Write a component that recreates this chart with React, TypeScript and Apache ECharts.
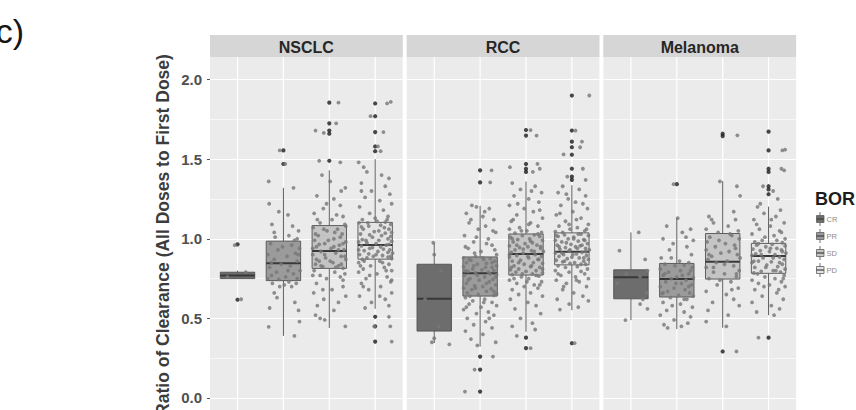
import React, { useEffect, useRef } from 'react';
import * as echarts from 'echarts';

const panelNames = ['NSCLC', 'RCC', 'Melanoma'];
const responseLevels = ['CR', 'PR', 'SD', 'PD'];
const responseFills = ['#6d6d6d', '#9b9b9b', '#c4c4c4', '#e4e4e4'];

// [lower whisker, Q1, median, Q3, upper whisker] per response level
const nsclcBoxes = [
  [0.75, 0.75, 0.77, 0.79, 0.8],
  [0.39, 0.737, 0.847, 0.985, 1.32],
  [0.44, 0.814, 0.923, 1.083, 1.43],
  [0.56, 0.872, 0.961, 1.103, 1.5],
];
const rccBoxes = [
  [0.345, 0.42, 0.623, 0.84, 0.975],
  [0.323, 0.64, 0.783, 0.886, 1.207],
  [0.416, 0.772, 0.905, 1.03, 1.36],
  [0.551, 0.836, 0.919, 1.037, 1.337],
];
const melanomaBoxes = [
  [0.489, 0.623, 0.758, 0.805, 1.04],
  [0.433, 0.634, 0.747, 0.845, 1.13],
  [0.441, 0.747, 0.855, 1.033, 1.362],
  [0.52, 0.783, 0.892, 0.971, 1.202],
];

// outlying ratios per response level
const nsclcOutliers = [
  [0.965, 0.617],
  [1.555, 1.47],
  [1.855, 1.725, 1.68, 1.66, 1.49],
  [1.85, 1.77, 1.67, 1.58, 1.55, 0.51, 0.45, 0.354],
];
const rccOutliers = [
  [],
  [1.43, 1.354, 0.26, 0.178, 0.04],
  [1.683, 1.648, 1.47, 1.44, 1.42, 0.379, 0.313],
  [1.9, 1.68, 1.61, 1.575, 1.528, 1.44, 1.39, 1.37, 0.344],
];
const melanomaOutliers = [
  [],
  [1.343],
  [1.66, 1.645, 0.292],
  [1.673, 1.555, 1.44, 1.42, 1.33, 1.31, 1.28, 0.379],
];

// individual patients: [horizontal jitter, ratio]
const nsclcCR = [[-0.06, 0.96], [0.18, 0.79], [-0.22, 0.76], [0.08, 0.62]];
const nsclcPR = [
  [-0.08, 1.555], [0.04, 1.47], [-0.32, 1.36], [0.22, 1.32], [-0.31, 1.22], [-0.1, 1.17], [-0.25, 1.09], [0.2, 1.08],
  [0.33, 1.05], [-0.2, 1.04], [0.12, 1.02], [0.3, 1.0], [-0.28, 0.97], [0.18, 0.96], [0.35, 0.94], [-0.12, 0.93],
  [0.26, 0.91], [-0.34, 0.9], [0.08, 0.89], [-0.2, 0.87], [0.3, 0.86], [-0.05, 0.84], [0.15, 0.83], [-0.3, 0.82],
  [0.36, 0.8], [-0.15, 0.79], [0.22, 0.78], [-0.26, 0.77], [0.05, 0.76], [0.3, 0.75], [-0.1, 0.745], [0.12, 0.73],
  [-0.24, 0.72], [0.28, 0.72], [0.02, 0.71], [-0.08, 0.7], [-0.14, 0.63], [0.25, 0.6], [-0.3, 0.565], [0.33, 0.55],
  [0.35, 0.48], [-0.32, 0.447], [0.24, 0.39], [0.1, 1.15], [-0.18, 1.01], [0.24, 0.99], [-0.02, 0.95], [0.32, 0.9],
  [-0.26, 0.85], [0.1, 0.8], [-0.34, 0.75], [0.18, 0.7], [-0.2, 0.66],
];
const nsclcSD = [
  [0.2, 1.855], [0.15, 1.725], [-0.3, 1.68], [-0.12, 1.665], [-0.22, 1.49], [0.24, 1.48], [-0.16, 1.4], [0.02, 1.36],
  [0.35, 1.32], [-0.27, 1.27], [0.1, 1.25], [0.24, 1.21], [-0.13, 1.19], [-0.33, 1.16], [0.3, 1.14], [0.06, 1.12],
  [-0.2, 1.1], [0.34, 1.09], [-0.35, 1.07], [0.18, 1.06], [-0.05, 1.05], [0.28, 1.03], [-0.24, 1.02], [0.1, 1.0],
  [-0.32, 0.99], [0.36, 0.98], [-0.1, 0.97], [0.22, 0.96], [-0.28, 0.95], [0.04, 0.94], [0.32, 0.93], [-0.18, 0.92],
  [0.14, 0.91], [-0.36, 0.9], [0.26, 0.89], [-0.08, 0.88], [0.36, 0.87], [-0.22, 0.86], [0.08, 0.85], [-0.3, 0.84],
  [0.2, 0.83], [-0.14, 0.825], [0.3, 0.815], [-0.33, 0.8], [0.12, 0.79], [0.34, 0.78], [-0.2, 0.77], [0.24, 0.76],
  [-0.06, 0.75], [-0.28, 0.72], [0.3, 0.7], [0.06, 0.68], [-0.34, 0.66], [0.36, 0.64], [-0.12, 0.62], [0.2, 0.6],
  [-0.26, 0.58], [0.1, 0.55], [-0.3, 0.52], [-0.2, 0.5], [0.35, 0.45], [-0.1, 0.49], [0.26, 1.3], [-0.06, 1.22],
  [0.16, 1.15], [-0.26, 1.12], [0.36, 1.08], [-0.12, 1.06], [0.12, 1.04], [-0.3, 1.03], [0.24, 1.01], [-0.02, 0.99],
  [0.3, 0.97], [-0.22, 0.965], [0.1, 0.95], [-0.36, 0.94], [0.2, 0.93], [-0.1, 0.9], [0.34, 0.89], [-0.28, 0.87],
  [0.02, 0.86], [0.26, 0.84], [-0.18, 0.83], [0.14, 0.82], [-0.36, 0.77], [0.3, 0.74], [-0.14, 0.68],
];
const nsclcPD = [
  [0.26, 1.85], [0.34, 1.86], [-0.1, 1.77], [0.18, 1.67], [0.06, 1.58], [0.12, 1.55], [0.3, 0.51], [-0.02, 0.45],
  [0.33, 0.45], [0.36, 0.354], [-0.36, 1.48], [-0.25, 1.45], [-0.18, 1.42], [0.14, 1.4], [0.3, 1.38], [-0.3, 1.35],
  [0.22, 1.33], [-0.08, 1.3], [0.32, 1.28], [-0.22, 1.26], [0.1, 1.24], [0.36, 1.22], [-0.34, 1.2], [0.18, 1.18],
  [-0.12, 1.16], [0.28, 1.14], [-0.28, 1.12], [0.04, 1.11], [0.22, 1.105], [-0.35, 1.1], [0.34, 1.09], [-0.14, 1.08],
  [0.2, 1.07], [-0.26, 1.06], [0.08, 1.05], [0.36, 1.04], [-0.32, 1.03], [0.14, 1.02], [-0.06, 1.01], [0.28, 1.0],
  [-0.2, 0.99], [0.36, 0.985], [-0.36, 0.98], [0.02, 0.97], [0.24, 0.96], [-0.3, 0.955], [0.12, 0.95], [-0.12, 0.94],
  [0.32, 0.93], [-0.24, 0.925], [0.06, 0.92], [0.38, 0.91], [-0.34, 0.9], [0.16, 0.895], [-0.04, 0.89], [0.28, 0.885],
  [-0.18, 0.88], [0.36, 0.875], [-0.28, 0.87], [0.1, 0.86], [-0.36, 0.85], [0.3, 0.84], [-0.1, 0.83], [0.2, 0.82],
  [-0.26, 0.81], [0.36, 0.8], [-0.36, 0.79], [0.04, 0.78], [0.26, 0.76], [-0.2, 0.75], [0.34, 0.73], [-0.3, 0.72],
  [0.12, 0.7], [-0.14, 0.68], [0.36, 0.66], [-0.34, 0.64], [0.22, 0.62], [-0.08, 0.6], [0.3, 0.58], [-0.22, 0.565],
  [0.0, 1.13], [0.26, 1.12], [-0.16, 1.1], [0.12, 1.085], [-0.3, 1.075], [0.3, 1.06], [-0.02, 1.045], [0.22, 1.035],
  [-0.12, 1.025], [0.34, 1.015], [-0.28, 0.995], [0.08, 0.99], [-0.18, 0.975], [0.3, 0.965], [-0.06, 0.945], [0.18, 0.935],
  [-0.36, 0.93], [0.28, 0.915], [-0.14, 0.905], [0.02, 0.9], [0.34, 0.89], [-0.24, 0.86], [0.16, 0.85], [-0.32, 0.83],
  [0.24, 0.8], [-0.12, 0.77], [0.36, 0.74], [-0.26, 0.7], [0.1, 0.64], [-0.3, 1.3],
];

const rccCR = [[-0.02, 0.975], [0.0, 0.9], [0.15, 0.8], [-0.2, 0.62], [0.1, 0.45], [0.0, 0.375], [0.33, 0.337], [-0.05, 0.35]];
const rccPR = [
  [0.25, 1.43], [0.22, 1.354], [0.28, 0.26], [-0.12, 0.178], [-0.33, 0.04], [-0.18, 1.21], [-0.08, 1.2], [0.2, 1.19],
  [-0.3, 1.16], [0.06, 1.14], [0.3, 1.12], [-0.24, 1.1], [0.12, 1.08], [-0.04, 1.06], [0.34, 1.04], [-0.34, 1.02],
  [0.18, 1.0], [-0.14, 0.98], [0.26, 0.96], [-0.26, 0.94], [0.02, 0.92], [0.36, 0.9], [-0.1, 0.89], [-0.36, 0.88],
  [0.22, 0.875], [0.08, 0.87], [-0.2, 0.865], [0.32, 0.86], [-0.3, 0.85], [0.14, 0.845], [-0.06, 0.84], [0.36, 0.83],
  [-0.36, 0.825], [0.26, 0.82], [-0.16, 0.81], [0.04, 0.805], [0.3, 0.8], [-0.26, 0.795], [0.18, 0.79], [-0.1, 0.785],
  [0.36, 0.775], [-0.34, 0.77], [0.1, 0.76], [-0.22, 0.75], [0.28, 0.745], [-0.02, 0.74], [0.2, 0.73], [-0.3, 0.72],
  [0.34, 0.71], [-0.12, 0.705], [0.06, 0.7], [-0.36, 0.69], [0.24, 0.685], [-0.18, 0.68], [0.14, 0.67], [-0.28, 0.66],
  [0.36, 0.655], [-0.04, 0.65], [0.3, 0.645], [-0.32, 0.63], [0.1, 0.62], [-0.16, 0.61], [0.26, 0.6], [-0.24, 0.59],
  [0.36, 0.58], [0.02, 0.57], [-0.36, 0.555], [0.18, 0.54], [-0.08, 0.53], [0.3, 0.52], [-0.28, 0.5], [0.12, 0.48],
  [-0.14, 0.46], [0.26, 0.44], [-0.32, 0.42], [0.06, 0.4], [-0.2, 0.37], [0.34, 0.35], [-0.06, 0.33],
  [0.1, 1.17], [-0.2, 1.12], [0.28, 1.05], [-0.08, 1.01], [0.14, 0.97], [-0.32, 0.95], [0.32, 0.93], [-0.12, 0.91],
  [0.06, 0.88], [-0.24, 0.87], [0.26, 0.85], [-0.14, 0.83], [0.12, 0.82], [-0.32, 0.8], [0.22, 0.78], [-0.06, 0.77],
  [0.34, 0.76], [-0.26, 0.74], [0.14, 0.72], [-0.1, 0.69], [0.3, 0.67], [-0.22, 0.64], [0.08, 0.6], [-0.3, 0.57],
  [0.2, 0.5],
];
const rccSD = [
  [0.1, 1.683], [0.23, 1.648], [-0.35, 1.45], [0.25, 1.47], [0.3, 1.44], [0.15, 1.42], [-0.2, 0.39], [0.1, 0.313],
  [-0.3, 1.35], [0.2, 1.33], [-0.12, 1.31], [0.34, 1.29], [-0.26, 1.27], [0.06, 1.25], [0.28, 1.23], [-0.36, 1.21],
  [-0.04, 1.19], [0.16, 1.17], [-0.2, 1.15], [0.36, 1.13], [-0.32, 1.11], [0.1, 1.1], [0.26, 1.08], [-0.14, 1.07],
  [-0.36, 1.06], [0.02, 1.05], [0.34, 1.04], [-0.24, 1.035], [0.18, 1.025], [-0.08, 1.02], [0.3, 1.015], [-0.34, 1.01],
  [0.08, 1.0], [-0.18, 0.995], [0.36, 0.99], [-0.28, 0.98], [0.14, 0.975], [-0.02, 0.97], [0.24, 0.96], [-0.36, 0.955],
  [0.04, 0.95], [-0.14, 0.945], [0.32, 0.94], [-0.24, 0.93], [0.12, 0.925], [0.38, 0.92], [-0.32, 0.915], [-0.06, 0.91],
  [0.2, 0.9], [-0.2, 0.895], [0.34, 0.89], [-0.36, 0.885], [0.06, 0.88], [0.26, 0.87], [-0.12, 0.865], [-0.3, 0.86],
  [0.16, 0.85], [0.36, 0.845], [-0.04, 0.84], [-0.26, 0.83], [0.1, 0.825], [0.3, 0.82], [-0.16, 0.81], [-0.34, 0.805],
  [0.22, 0.8], [0.0, 0.795], [-0.22, 0.79], [0.36, 0.785], [0.14, 0.78], [-0.3, 0.775], [0.28, 0.765], [-0.1, 0.76],
  [0.06, 0.75], [-0.36, 0.74], [0.34, 0.73], [-0.2, 0.72], [0.18, 0.71], [-0.04, 0.7], [0.26, 0.69], [-0.3, 0.68],
  [0.1, 0.66], [-0.16, 0.65], [0.36, 0.64], [-0.34, 0.62], [0.04, 0.6], [0.22, 0.58], [-0.24, 0.56], [0.32, 0.53],
  [-0.12, 0.5], [0.14, 0.47], [-0.3, 0.45], [0.2, 0.43], [0.12, 1.3], [-0.18, 1.22], [0.3, 1.18], [-0.28, 1.12],
  [0.06, 1.09], [-0.1, 1.05], [0.26, 1.03], [-0.3, 1.0], [0.1, 0.985], [-0.2, 0.96], [0.32, 0.95], [-0.06, 0.935],
  [0.18, 0.92], [-0.36, 0.9], [0.04, 0.89], [0.28, 0.87], [-0.16, 0.85], [0.12, 0.83], [-0.32, 0.82], [0.36, 0.81],
  [-0.08, 0.78], [0.22, 0.77], [-0.26, 0.75], [0.02, 0.73], [0.3, 0.71],
];
const rccPD = [
  [0.38, 1.9], [0.08, 1.68], [0.22, 1.61], [0.18, 1.575], [-0.18, 1.53], [0.24, 1.44], [-0.1, 1.39], [0.3, 1.37],
  [0.06, 0.344], [-0.2, 1.33], [0.16, 1.31], [-0.3, 1.29], [0.3, 1.27], [-0.08, 1.25], [0.08, 1.23], [-0.24, 1.21],
  [0.34, 1.19], [0.02, 1.17], [-0.34, 1.15], [0.2, 1.13], [-0.14, 1.11], [0.36, 1.09], [-0.28, 1.08], [0.12, 1.07],
  [-0.04, 1.06], [0.28, 1.05], [-0.36, 1.045], [0.2, 1.03], [-0.16, 1.025], [0.36, 1.02], [-0.3, 1.015], [0.04, 1.01],
  [-0.08, 1.0], [0.26, 0.995], [-0.36, 0.99], [0.14, 0.985], [-0.22, 0.98], [0.34, 0.97], [-0.02, 0.965], [-0.32, 0.96],
  [0.18, 0.955], [0.08, 0.95], [-0.14, 0.945], [0.3, 0.94], [-0.26, 0.935], [0.38, 0.93], [-0.06, 0.925], [0.22, 0.915],
  [-0.36, 0.91], [0.1, 0.905], [-0.18, 0.9], [0.32, 0.895], [-0.28, 0.89], [0.0, 0.885], [0.16, 0.88], [-0.1, 0.875],
  [0.36, 0.87], [-0.34, 0.865], [0.26, 0.86], [-0.2, 0.855], [0.06, 0.85], [-0.04, 0.845], [0.3, 0.84], [-0.3, 0.83],
  [0.12, 0.825], [-0.14, 0.82], [0.34, 0.81], [-0.36, 0.8], [0.2, 0.795], [-0.06, 0.79], [0.28, 0.78], [-0.24, 0.77],
  [0.08, 0.76], [0.36, 0.75], [-0.34, 0.74], [0.16, 0.73], [-0.12, 0.72], [0.32, 0.7], [-0.2, 0.68], [0.04, 0.66],
  [0.24, 0.64], [-0.32, 0.62], [0.36, 0.61], [-0.06, 0.59], [0.14, 0.57], [-0.26, 0.555], [-0.12, 1.28], [0.24, 1.22],
  [-0.26, 1.16], [0.1, 1.12], [-0.06, 1.09], [0.32, 1.06], [-0.2, 1.04], [0.14, 1.03], [-0.34, 1.02], [0.04, 1.0],
  [0.28, 0.99], [-0.12, 0.975], [0.22, 0.96], [-0.28, 0.95], [0.12, 0.94], [-0.04, 0.93], [0.3, 0.92], [-0.22, 0.91],
  [0.02, 0.9], [0.26, 0.88], [-0.16, 0.86], [0.2, 0.84], [-0.3, 0.78], [0.1, 0.74], [-0.18, 0.7],
];

const melanomaCR = [
  [0.17, 1.04], [-0.25, 0.925], [0.31, 0.87], [0.36, 0.8], [-0.1, 0.78], [0.2, 0.76], [-0.3, 0.72], [0.34, 0.66],
  [0.26, 0.62], [0.2, 0.59], [0.36, 0.56], [-0.12, 0.489],
];
const melanomaPR = [
  [-0.07, 1.343], [0.02, 1.13], [-0.22, 1.08], [0.3, 1.06], [0.12, 1.04], [-0.3, 1.0], [0.36, 0.99], [-0.08, 0.97],
  [0.22, 0.95], [-0.16, 0.93], [0.32, 0.9], [-0.34, 0.88], [0.06, 0.86], [0.26, 0.85], [-0.26, 0.84], [0.16, 0.835],
  [-0.04, 0.83], [0.34, 0.82], [-0.36, 0.81], [0.08, 0.8], [-0.18, 0.79], [0.26, 0.78], [-0.3, 0.77], [0.0, 0.76],
  [0.36, 0.755], [-0.12, 0.75], [0.2, 0.74], [-0.24, 0.73], [0.1, 0.72], [0.32, 0.71], [-0.36, 0.7], [-0.06, 0.69],
  [0.18, 0.68], [-0.2, 0.67], [0.28, 0.66], [-0.32, 0.655], [0.04, 0.645], [0.36, 0.64], [-0.14, 0.63], [0.22, 0.62],
  [-0.3, 0.6], [0.08, 0.59], [0.34, 0.57], [-0.22, 0.55], [0.16, 0.54], [-0.36, 0.52], [0.3, 0.51], [-0.06, 0.49],
  [0.24, 0.47], [-0.28, 0.46], [0.1, 0.45], [-0.2, 0.44], [0.2, 1.01], [-0.12, 0.88], [0.3, 0.8], [-0.26, 0.78],
  [0.12, 0.77], [-0.02, 0.72], [0.26, 0.7], [-0.3, 0.66], [0.16, 0.62], [-0.1, 0.58],
];
const melanomaSD = [
  [0.32, 1.65], [0.3, 0.292], [-0.06, 1.36], [0.31, 1.33], [0.38, 1.27], [0.24, 1.17], [-0.3, 1.14], [0.28, 1.12],
  [-0.2, 1.1], [0.12, 1.08], [-0.36, 1.06], [0.34, 1.05], [-0.1, 1.04], [0.2, 1.02], [-0.28, 1.01], [0.36, 1.0],
  [-0.34, 0.98], [0.06, 0.97], [-0.16, 0.95], [0.28, 0.94], [-0.36, 0.93], [0.14, 0.92], [-0.04, 0.91], [0.32, 0.9],
  [-0.24, 0.89], [0.38, 0.88], [-0.32, 0.87], [0.1, 0.86], [-0.14, 0.85], [0.24, 0.83], [-0.36, 0.82], [0.36, 0.8],
  [-0.2, 0.79], [0.04, 0.78], [0.3, 0.76], [-0.3, 0.75], [0.18, 0.73], [-0.12, 0.71], [0.34, 0.69], [-0.36, 0.67],
  [0.08, 0.65], [0.24, 0.62], [-0.22, 0.6], [0.36, 0.58], [-0.32, 0.55], [0.12, 0.52], [-0.36, 0.48], [0.08, 0.45],
  [-0.24, 1.12], [0.16, 1.03], [-0.08, 0.99], [0.26, 0.96], [-0.3, 0.9], [0.04, 0.84], [-0.2, 0.82], [0.3, 0.78],
  [-0.06, 0.74], [0.2, 0.68],
];
const melanomaPD = [
  [0.3, 1.555], [0.36, 1.56], [0.28, 1.44], [0.34, 1.43], [-0.12, 1.33], [0.1, 1.3], [-0.22, 0.379], [-0.24, 1.2],
  [0.26, 1.18], [-0.1, 1.16], [0.16, 1.14], [-0.32, 1.12], [0.34, 1.1], [0.04, 1.08], [-0.2, 1.06], [0.24, 1.05],
  [-0.36, 1.03], [0.12, 1.02], [0.36, 1.0], [-0.14, 0.99], [-0.3, 0.98], [0.3, 0.975], [0.08, 0.965], [-0.26, 0.96],
  [0.36, 0.955], [-0.06, 0.95], [0.18, 0.94], [-0.34, 0.935], [0.28, 0.93], [-0.18, 0.925], [0.02, 0.92], [0.38, 0.91],
  [-0.28, 0.905], [0.14, 0.9], [-0.36, 0.895], [0.24, 0.885], [-0.12, 0.88], [0.34, 0.87], [-0.22, 0.86], [0.06, 0.855],
  [-0.36, 0.85], [0.3, 0.84], [-0.04, 0.835], [0.2, 0.825], [-0.3, 0.82], [0.36, 0.81], [0.1, 0.8], [-0.16, 0.795],
  [0.26, 0.79], [-0.32, 0.785], [0.34, 0.77], [-0.08, 0.76], [0.14, 0.75], [-0.36, 0.74], [0.28, 0.73], [-0.22, 0.72],
  [0.02, 0.71], [0.36, 0.7], [-0.3, 0.68], [0.18, 0.66], [-0.14, 0.64], [0.32, 0.62], [-0.36, 0.6], [0.06, 0.58],
  [0.24, 0.56], [-0.26, 0.54], [0.12, 0.52], [0.2, 1.25], [-0.18, 1.22], [0.06, 1.12], [-0.26, 1.09], [0.28, 1.04],
  [-0.08, 1.01], [0.18, 0.99], [-0.22, 0.97], [0.04, 0.94], [0.3, 0.92], [-0.16, 0.9], [0.1, 0.88], [-0.32, 0.86],
  [0.24, 0.85], [-0.06, 0.82], [0.16, 0.8], [-0.24, 0.78], [0.32, 0.75], [-0.1, 0.7], [0.22, 0.68],
];

const panelBoxes = [nsclcBoxes, rccBoxes, melanomaBoxes];
const panelOutliers = [nsclcOutliers, rccOutliers, melanomaOutliers];
const panelPatients = [
  [nsclcCR, nsclcPR, nsclcSD, nsclcPD],
  [rccCR, rccPR, rccSD, rccPD],
  [melanomaCR, melanomaPR, melanomaSD, melanomaPD],
];

const FONT = '"Liberation Sans", Arial, Helvetica, sans-serif';
const PANEL_LEFT = 210;
const PANEL_W = 192.7;
const PANEL_GAP = 4;
const Y_MIN = -0.5;
const Y_MAX = 2.5;
const GRID_TOP = -5.75;
const GRID_H = 483.3;
const STRIP_TOP = 35;
const STRIP_H = 22;

const panelLeft = (i: number) => PANEL_LEFT + i * (PANEL_W + PANEL_GAP);

function renderBox(params: any, api: any) {
  const x = api.value(0);
  const level = api.value(6);
  const lo = api.coord([x, api.value(1)]);
  const q1 = api.coord([x, api.value(2)]);
  const med = api.coord([x, api.value(3)]);
  const q3 = api.coord([x, api.value(4)]);
  const hi = api.coord([x, api.value(5)]);
  const top = api.coord([x, Y_MAX]);
  const bottom = api.coord([x, Y_MIN]);
  const half = api.size([0.75, 0])[0] / 2;
  const cx = lo[0];
  return {
    type: 'group',
    children: [
      { type: 'line', shape: { x1: cx, y1: top[1], x2: cx, y2: bottom[1] }, style: { stroke: '#ffffff', lineWidth: 1.2 } },
      { type: 'line', shape: { x1: cx, y1: q3[1], x2: cx, y2: hi[1] }, style: { stroke: '#5c5c5c', lineWidth: 1 } },
      { type: 'line', shape: { x1: cx, y1: q1[1], x2: cx, y2: lo[1] }, style: { stroke: '#5c5c5c', lineWidth: 1 } },
      {
        type: 'rect',
        shape: { x: cx - half, y: q3[1], width: half * 2, height: Math.max(q1[1] - q3[1], 1) },
        style: { fill: responseFills[level], stroke: '#505050', lineWidth: 0.9 },
      },
      { type: 'line', shape: { x1: cx - half, y1: med[1], x2: cx + half, y2: med[1] }, style: { stroke: '#383838', lineWidth: 2 } },
    ],
  };
}

export default function App() {
  const ref = useRef<HTMLDivElement>(null);

  useEffect(() => {
    if (!ref.current) return;
    const chart = echarts.init(ref.current, undefined, { renderer: 'svg' });

    const grids: any[] = [];
    const xAxes: any[] = [];
    const yAxes: any[] = [];
    const series: any[] = [];
    const graphics: any[] = [];

    // blank margin above the facet strips
    graphics.push({
      type: 'rect',
      z: 100,
      shape: { x: 200, y: -20, width: 610, height: STRIP_TOP + 20 },
      style: { fill: '#ffffff' },
    });

    panelNames.forEach((name, i) => {
      grids.push({
        left: panelLeft(i),
        top: GRID_TOP,
        width: PANEL_W,
        height: GRID_H,
        show: true,
        backgroundColor: '#ebebeb',
        borderWidth: 0,
      });
      xAxes.push({ type: 'value', gridIndex: i, min: 0.4, max: 4.6, show: false });
      yAxes.push({
        type: 'value',
        gridIndex: i,
        min: Y_MIN,
        max: Y_MAX,
        interval: 0.5,
        axisLine: { show: false },
        axisTick: { show: i === 0, length: 3, lineStyle: { color: '#555555', width: 1 } },
        axisLabel: {
          show: i === 0,
          margin: 8,
          fontFamily: FONT,
          fontWeight: 'bold',
          fontSize: 15,
          color: '#505050',
          formatter: (v: number) => (v < 0 || v > 2 ? '' : v.toFixed(1)),
        },
        splitLine: { show: true, lineStyle: { color: '#ffffff', width: 1.2 } },
        minorTick: { show: false, splitNumber: 2 },
        minorSplitLine: { show: true, lineStyle: { color: '#ffffff', width: 0.6 } },
      });

      series.push({
        type: 'custom',
        xAxisIndex: i,
        yAxisIndex: i,
        silent: true,
        clip: false,
        z: 2,
        data: panelBoxes[i].map((b, k) => [k + 1, ...b, k]),
        renderItem: renderBox,
      });
      const outlierPts: number[][] = [];
      panelOutliers[i].forEach((vals, k) => vals.forEach((v) => outlierPts.push([k + 1, v])));
      series.push({
        type: 'scatter',
        xAxisIndex: i,
        yAxisIndex: i,
        silent: true,
        z: 3,
        symbolSize: 4.2,
        itemStyle: { color: '#1a1a1a' },
        data: outlierPts,
      });
      const patientPts: number[][] = [];
      panelPatients[i].forEach((pts, k) => pts.forEach(([dx, v]) => patientPts.push([k + 1 + dx, v])));
      series.push({
        type: 'scatter',
        xAxisIndex: i,
        yAxisIndex: i,
        silent: true,
        z: 4,
        symbolSize: 3.8,
        itemStyle: { color: '#787878', opacity: 0.82 },
        data: patientPts,
      });

      graphics.push({
        type: 'rect',
        z: 101,
        shape: { x: panelLeft(i), y: STRIP_TOP, width: PANEL_W, height: STRIP_H },
        style: { fill: '#d6d6d6' },
      });
      graphics.push({
        type: 'text',
        z: 102,
        x: panelLeft(i) + PANEL_W / 2,
        y: STRIP_TOP + STRIP_H / 2 + 1,
        style: {
          text: name,
          fontFamily: FONT,
          fontWeight: 'bold',
          fontSize: 16,
          fill: '#262626',
          align: 'center',
          verticalAlign: 'middle',
        },
      });
    });

    graphics.push({
      type: 'text',
      z: 102,
      x: 163,
      y: 235,
      rotation: Math.PI / 2,
      style: {
        text: 'Ratio of Clearance (All Doses to First Dose)',
        fontFamily: FONT,
        fontWeight: 'bold',
        fontSize: 17.5,
        fill: '#3c3c3c',
        align: 'center',
        verticalAlign: 'middle',
      },
    });
    graphics.push({
      type: 'text',
      z: 102,
      x: 24,
      y: 31,
      style: {
        text: '(c)',
        fontFamily: FONT,
        fontSize: 34,
        fill: '#151515',
        align: 'right',
        verticalAlign: 'middle',
      },
    });

    // legend: BOR
    graphics.push({
      type: 'text',
      z: 102,
      x: 815,
      y: 199,
      style: {
        text: 'BOR',
        fontFamily: FONT,
        fontWeight: 'bold',
        fontSize: 18,
        fill: '#1c1c1c',
        align: 'left',
        verticalAlign: 'middle',
      },
    });
    responseLevels.forEach((lvl, k) => {
      const cy = 219 + k * 17;
      graphics.push({ type: 'line', z: 102, shape: { x1: 820, y1: cy - 7, x2: 820, y2: cy + 7 }, style: { stroke: '#707070', lineWidth: 1 } });
      graphics.push({
        type: 'rect',
        z: 103,
        shape: { x: 816.5, y: cy - 3.5, width: 7.5, height: 7 },
        style: { fill: responseFills[k], stroke: '#606060', lineWidth: 0.8 },
      });
      graphics.push({ type: 'line', z: 104, shape: { x1: 816.5, y1: cy, x2: 824, y2: cy }, style: { stroke: '#404040', lineWidth: 1.2 } });
      graphics.push({
        type: 'text',
        z: 102,
        x: 826.5,
        y: cy,
        style: {
          text: lvl,
          fontFamily: FONT,
          fontSize: 7.5,
          fill: '#8a8a8a',
          align: 'left',
          verticalAlign: 'middle',
        },
      });
    });

    chart.setOption({
      animation: false,
      backgroundColor: '#ffffff',
      grid: grids,
      xAxis: xAxes,
      yAxis: yAxes,
      series,
      graphic: { elements: graphics },
    });

    return () => chart.dispose();
  }, []);

  return (
    <div
      ref={ref}
      style={{ position: 'fixed', left: 0, top: 0, width: 856, height: 480, background: '#ffffff' }}
    />
  );
}
